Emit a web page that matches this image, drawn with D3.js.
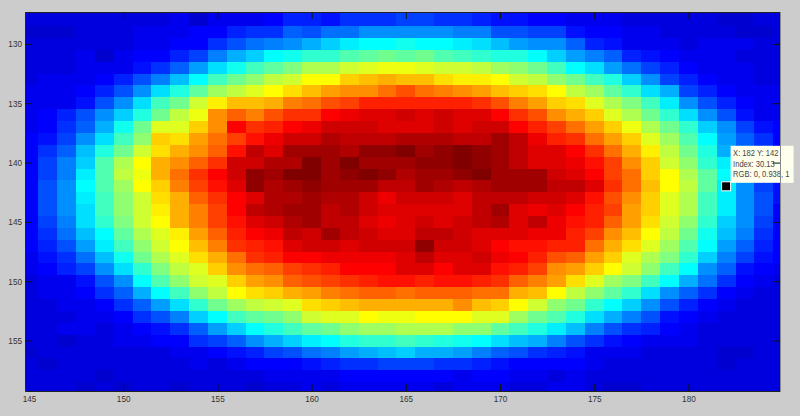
<!DOCTYPE html>
<html>
<head>
<meta charset="utf-8">
<script src="https://cdn.jsdelivr.net/npm/d3@7"></script>
<style>
  html, body { margin: 0; padding: 0; background: #cccccc; }
  svg { display: block; }
  text { font-family: "Liberation Sans", Arial, sans-serif; }
</style>
</head>
<body>
<svg id="chart" width="800" height="416"></svg>
<script>
const columnas = d3.range(145, 186);
const filas = d3.range(127, 160);
const xTicks = [145, 150, 155, 160, 165, 170, 175, 180];
const yTicks = [130, 135, 140, 145, 150, 155];

// niveles del colormap (1-64), una fila por cada Y
const niveles = [
  [6,6,6,6,6,6,6,6,7,5,7,7,7,8,10,10,9,11,11,11,12,12,11,11,10,9,9,8,8,7,7,7,6,6,6,6,6,5,5,6,6],
  [6,6,6,6,6,6,6,6,7,5,7,7,7,8,10,10,9,11,11,11,12,12,11,11,10,9,9,8,8,7,7,7,6,6,6,6,6,5,5,6,6],
  [5,5,5,6,6,6,7,7,7,8,8,10,11,11,14,13,15,15,17,17,17,17,17,16,16,13,13,12,12,9,8,8,7,7,6,6,6,6,5,5,6],
  [6,6,6,6,6,6,7,7,8,8,11,13,15,16,17,19,21,23,24,24,25,24,24,23,22,20,18,17,17,14,10,9,7,7,7,6,7,7,7,6,6],
  [6,6,6,7,5,7,8,8,10,12,16,19,21,24,25,27,27,29,30,31,30,31,29,28,27,26,26,24,21,18,16,14,10,9,8,7,7,7,6,6,6],
  [6,6,6,7,7,7,9,11,14,18,22,25,28,30,32,35,35,37,38,39,39,38,37,37,36,34,33,31,28,24,22,18,15,12,10,8,7,7,7,6,6],
  [6,7,7,7,8,10,13,16,20,24,28,31,33,36,37,40,40,43,44,45,44,44,42,41,41,40,37,36,33,31,28,26,21,17,12,10,8,7,7,6,6],
  [7,7,7,8,10,13,17,22,26,30,34,36,38,40,42,44,46,47,47,49,51,49,48,47,46,44,43,42,40,36,34,30,27,22,19,12,10,8,7,7,7],
  [7,7,7,9,13,17,22,28,31,37,41,44,44,45,48,49,51,52,54,54,54,54,54,54,53,51,48,46,43,42,38,35,32,28,23,17,13,10,8,7,7],
  [7,8,10,13,17,21,26,31,36,39,47,50,48,51,53,53,56,57,58,58,59,58,59,58,58,56,53,51,47,45,43,38,35,31,27,22,17,13,9,7,7],
  [7,8,11,14,19,25,31,38,38,43,47,56,53,54,56,57,59,59,59,58,58,58,59,58,59,59,56,54,52,49,46,43,39,35,31,27,21,17,12,9,8],
  [8,9,12,17,22,28,33,43,42,46,49,52,55,57,59,59,61,60,60,60,61,61,61,60,60,62,60,57,54,53,49,46,43,38,34,29,24,18,14,11,8],
  [8,11,14,20,26,31,37,42,45,47,50,55,60,58,62,62,62,61,63,63,64,62,63,64,63,62,60,58,58,56,53,49,45,41,36,31,26,19,15,12,8],
  [8,12,16,21,29,35,40,45,47,50,53,59,59,61,61,64,62,64,62,62,62,63,63,64,63,62,60,58,58,57,55,52,47,43,37,33,27,23,16,12,8],
  [8,12,16,23,29,36,39,45,49,53,56,59,63,62,64,64,62,63,64,63,61,62,62,63,64,62,62,62,59,58,56,52,49,43,40,35,30,24,17,12,9],
  [8,13,17,24,29,34,40,43,48,52,55,58,63,61,62,63,62,62,62,60,60,62,61,60,61,62,62,62,60,60,58,53,49,44,40,36,30,23,17,12,9],
  [8,13,17,23,28,33,37,42,45,50,53,56,58,61,61,62,61,61,59,57,59,59,59,58,60,60,60,59,59,58,55,51,47,43,38,35,28,23,17,13,9],
  [8,13,17,22,28,33,37,41,45,48,52,56,60,61,62,62,60,61,59,58,58,58,58,58,60,62,58,57,58,56,54,52,46,43,38,35,28,23,17,13,8],
  [8,12,16,22,27,32,37,40,45,48,52,55,58,59,61,62,60,60,58,57,58,59,58,59,60,61,58,60,57,55,54,50,46,42,37,33,27,21,17,12,8],
  [8,11,15,20,24,30,35,38,41,46,50,54,56,57,60,59,62,60,59,58,58,60,60,59,58,58,58,57,57,54,52,47,44,40,36,31,25,20,16,11,8],
  [8,10,13,18,23,28,33,37,40,44,48,53,54,55,58,59,59,58,59,59,59,63,59,59,58,56,55,55,54,54,49,45,42,38,34,29,24,18,14,10,8],
  [7,9,11,15,20,25,31,35,38,42,45,49,53,54,56,56,57,57,57,57,58,60,58,58,59,57,56,54,51,50,46,43,38,35,32,27,21,16,12,9,8],
  [7,8,10,12,17,22,27,32,36,38,43,47,49,50,52,53,54,56,56,56,58,58,56,58,58,55,54,52,47,46,43,40,37,33,28,24,17,14,9,8,7],
  [6,7,7,9,13,17,24,29,33,37,38,43,46,47,50,51,52,53,54,55,55,54,55,55,54,53,50,48,46,42,38,34,32,28,24,19,15,11,8,7,6],
  [6,7,7,8,11,14,19,24,28,33,36,40,42,43,45,46,48,49,50,50,49,50,50,50,49,49,45,44,40,36,33,30,27,22,17,14,11,8,7,6,6],
  [6,6,7,7,8,11,14,18,22,27,31,34,36,37,38,42,43,44,45,45,45,45,45,47,44,43,40,37,33,31,27,24,21,17,13,10,8,7,6,6,6],
  [6,6,6,7,7,8,11,13,16,21,24,28,30,31,33,37,38,38,40,39,39,40,40,40,38,38,34,31,29,26,22,19,16,13,9,8,7,6,6,6,6],
  [6,6,7,7,6,7,8,9,11,14,18,21,24,26,28,30,31,33,34,34,35,35,35,33,33,30,28,26,23,20,16,13,11,10,8,7,6,6,6,6,6],
  [6,6,5,6,6,7,7,8,8,11,12,14,17,19,21,23,24,26,27,27,28,27,26,25,24,22,20,19,16,13,11,9,8,7,7,7,6,6,6,6,6],
  [5,6,6,6,6,6,6,6,7,7,8,9,10,12,13,15,16,18,19,20,21,19,19,18,16,14,13,11,10,9,7,7,7,6,6,6,6,5,5,6,6],
  [6,5,6,6,6,6,6,6,6,7,6,7,8,8,8,9,10,11,11,12,12,12,11,11,10,9,8,8,8,8,7,6,6,6,6,6,6,5,6,6,6],
  [6,6,6,6,5,6,6,6,6,6,6,6,6,7,7,7,7,8,8,8,8,8,8,7,8,8,7,7,6,7,6,6,6,6,6,6,6,6,6,6,6],
  [6,6,6,5,6,5,6,6,5,6,6,6,5,6,6,7,6,7,7,7,7,7,6,7,7,7,6,6,7,7,6,5,5,6,6,6,6,6,6,6,6]
];

// punto seleccionado en el data tip
const tipPunto = { x: 182, y: 142 };
const tipLineas = ['X: 182 Y: 142', 'Index: 30.13', 'RGB: 0, 0.938, 1'];

const margen = { left: 25, right: 780, top: 12, bottom: 391 };

const x = d3.scaleLinear().domain([144.79, 184.86]).range([margen.left, margen.right]);
const y = d3.scaleLinear().domain([127.31, 159.25]).range([margen.top, margen.bottom]);

// jet de matlab con 64 niveles
const jet = d3.scaleLinear()
    .domain([1, 8, 24, 40, 56, 64])
    .range(['rgb(0,0,143)', 'rgb(0,0,255)', 'rgb(0,255,255)', 'rgb(255,255,0)', 'rgb(255,0,0)', 'rgb(128,0,0)'])
    .interpolate(d3.interpolateRgb);

const svg = d3.select('#chart');

svg.append('clipPath').attr('id', 'recorte')
    .append('rect')
    .attr('x', margen.left)
    .attr('y', margen.top)
    .attr('width', margen.right - margen.left)
    .attr('height', margen.bottom - margen.top);

const celdas = [];
filas.forEach((f, i) => {
    columnas.forEach((c, j) => {
        celdas.push({ c: c, f: f, v: niveles[i][j] });
    });
});

svg.append('g')
    .attr('clip-path', 'url(#recorte)')
    .attr('shape-rendering', 'crispEdges')
    .selectAll('rect')
    .data(celdas)
    .enter().append('rect')
    .attr('x', d => x(d.c - 0.5))
    .attr('y', d => y(d.f - 0.5))
    .attr('width', d => x(d.c + 0.5) - x(d.c - 0.5) + 0.5)
    .attr('height', d => y(d.f + 0.5) - y(d.f - 0.5) + 0.5)
    .attr('fill', d => jet(d.v));

// el original esta comprimido a lo ancho, asi que se angosta el texto
function angostar(sel, factor) {
    sel.each(function () {
        const ancho = this.getComputedTextLength();
        d3.select(this)
            .attr('textLength', ancho * factor)
            .attr('lengthAdjust', 'spacingAndGlyphs');
    });
}

// data tip
const tip = svg.append('g');
tip.append('rect')
    .attr('x', x(tipPunto.x) + 4.5)
    .attr('y', y(tipPunto.y) - 40.5)
    .attr('width', 63)
    .attr('height', 37)
    .attr('fill', '#ffffee');
tip.selectAll('text')
    .data(tipLineas)
    .enter().append('text')
    .attr('x', x(tipPunto.x) + 7)
    .attr('y', (d, i) => y(tipPunto.y) - 30 + i * 10.5)
    .attr('font-size', 9)
    .attr('fill', '#444444')
    .text(d => d)
    .call(angostar, 0.84);
tip.append('rect')
    .attr('x', x(tipPunto.x) - 4.5)
    .attr('y', y(tipPunto.y) - 4.5)
    .attr('width', 9)
    .attr('height', 9)
    .attr('fill', 'black')
    .attr('stroke', 'white')
    .attr('stroke-width', 1);

// ejes con marcas hacia adentro
function estilo(g) {
    g.select('.domain').attr('stroke', '#222222');
    g.selectAll('.tick line').attr('stroke', '#111111');
    g.selectAll('.tick text')
        .attr('font-family', '"Liberation Sans", Arial, sans-serif')
        .attr('font-size', 9.5)
        .attr('fill', '#333333')
        .call(angostar, 0.86);
}

svg.append('g')
    .attr('transform', `translate(0,${margen.bottom})`)
    .call(d3.axisBottom(x).tickValues(xTicks).tickSizeInner(-7).tickSizeOuter(0).tickPadding(4))
    .call(estilo);

svg.append('g')
    .attr('transform', `translate(0,${margen.top})`)
    .call(d3.axisTop(x).tickValues(xTicks).tickSizeInner(-7).tickSizeOuter(0).tickFormat(''))
    .call(estilo);

svg.append('g')
    .attr('transform', `translate(${margen.left},0)`)
    .call(d3.axisLeft(y).tickValues(yTicks).tickSizeInner(-7).tickSizeOuter(0).tickPadding(3))
    .call(estilo);

svg.append('g')
    .attr('transform', `translate(${margen.right},0)`)
    .call(d3.axisRight(y).tickValues(yTicks).tickSizeInner(-7).tickSizeOuter(0).tickFormat(''))
    .call(estilo)
    .select('.domain').attr('stroke', '#888888');
</script>
</body>
</html>
